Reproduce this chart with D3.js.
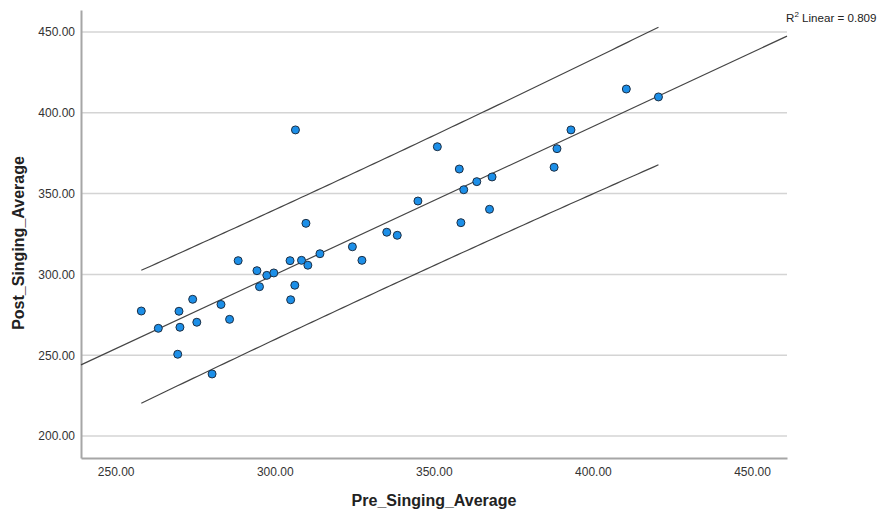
<!DOCTYPE html>
<html><head><meta charset="utf-8">
<script src="https://cdn.jsdelivr.net/npm/d3@7"></script>
<style>body{margin:0;background:#fff;} svg{display:block;font-family:"Liberation Sans",Arial,sans-serif;}</style>
</head><body><svg id="c" width="877" height="512"></svg>
<script>
const preSinging = [258.05,263.4,269.9,270.2,269.5,274.2,275.5,283.1,285.8,280.3,288.5,294.4,295.2,297.5,299.7,304.8,305.0,306.3,308.4,310.4,309.8,306.5,314.2,324.4,327.4,335.2,338.5,345.0,351.1,358.0,358.5,359.4,363.5,368.3,367.5,387.8,388.7,393.1,410.5,420.6];
const postSinging = [277.35,266.65,277.2,267.3,250.6,284.6,270.4,281.4,272.2,238.4,308.5,302.3,292.4,299.4,300.9,308.5,284.3,293.3,308.7,305.7,331.6,389.4,312.8,317.1,308.7,326.1,324.2,345.4,379.0,365.2,332.0,352.4,357.4,360.3,340.3,366.3,377.8,389.4,414.7,409.8];
const xTicks = [250,300,350,400,450];
const yTicks = [200,250,300,350,400,450];
const xLabel = "Pre_Singing_Average";
const yLabel = "Post_Singing_Average";
const r2Text = "0.809";

const svg = d3.select("#c");
const L=81, R=787, T=10, B=458;
const x = d3.scaleLinear().domain([239.1,461]).range([L,R]);
const y = d3.scaleLinear().domain([186.4,463.6]).range([B,T]);

// gridlines
svg.append("g").selectAll("line").data(yTicks).join("line")
  .attr("x1",L).attr("x2",R).attr("y1",d=>y(d)).attr("y2",d=>y(d))
  .attr("stroke","#d4d4d4").attr("stroke-width",1.5);

// axes
const xAxis = d3.axisBottom(x).tickValues(xTicks).tickFormat(d3.format(".2f")).tickSize(0).tickPadding(9);
const yAxis = d3.axisLeft(y).tickValues(yTicks).tickFormat(d3.format(".2f")).tickSize(0).tickPadding(6);
const gx = svg.append("g").attr("transform",`translate(0,${B})`).call(xAxis);
const gy = svg.append("g").attr("transform",`translate(${L},0)`).call(yAxis);
[gx,gy].forEach(g=>{
  g.select(".domain").attr("stroke","#a6a6a6").attr("stroke-width",2);
  g.selectAll("text").attr("fill","#333").style("font-size","12px").style("font-family","'Liberation Sans',Arial,sans-serif");
});

// regression
const n = preSinging.length;
const mx = d3.mean(preSinging), my = d3.mean(postSinging);
let sxx=0, sxy=0;
for(let i=0;i<n;i++){ sxx+=(preSinging[i]-mx)**2; sxy+=(preSinging[i]-mx)*(postSinging[i]-my); }
const b = sxy/sxx, a = my - b*mx;
let sse=0; for(let i=0;i<n;i++){ sse+=(postSinging[i]-a-b*preSinging[i])**2; }
const s = Math.sqrt(sse/(n-2));
const tval = 2.024;
const xmin = d3.min(preSinging), xmax = d3.max(preSinging);
const xs = d3.range(0,101).map(i=>xmin+(xmax-xmin)*i/100);
const half = xv => tval*s*Math.sqrt(1+1/n+(xv-mx)**2/sxx);
const line = d3.line().x(d=>x(d[0])).y(d=>y(d[1]));

svg.append("path").datum([[239.1,a+b*239.1],[461,a+b*461]]).attr("d",line)
  .attr("fill","none").attr("stroke","#454545").attr("stroke-width",1.2);
svg.append("path").datum(xs.map(v=>[v,a+b*v+half(v)])).attr("d",line)
  .attr("fill","none").attr("stroke","#454545").attr("stroke-width",1.2);
svg.append("path").datum(xs.map(v=>[v,a+b*v-half(v)])).attr("d",line)
  .attr("fill","none").attr("stroke","#454545").attr("stroke-width",1.2);

// points
svg.append("g").selectAll("circle").data(preSinging.map((v,i)=>[v,postSinging[i]])).join("circle")
  .attr("cx",d=>x(d[0])).attr("cy",d=>y(d[1])).attr("r",4)
  .attr("fill","#1c8fe8").attr("stroke","#1d2f44").attr("stroke-width",1);

// labels
svg.append("text").attr("x",(L+R)/2).attr("y",506).attr("text-anchor","middle")
  .style("font-size","16px").style("font-weight","bold").attr("fill","#222").text(xLabel);
svg.append("text").attr("transform","translate(24,243) rotate(-90)").attr("text-anchor","middle")
  .style("font-size","16px").style("font-weight","bold").attr("fill","#222").text(yLabel);

const rt = svg.append("text").attr("x",786).attr("y",22).style("font-size","11.6px").attr("fill","#222");
rt.append("tspan").text("R");
rt.append("tspan").attr("dy",-5).style("font-size","8px").text("2");
rt.append("tspan").attr("dy",5).text(" Linear = "+r2Text);
</script></body></html>
